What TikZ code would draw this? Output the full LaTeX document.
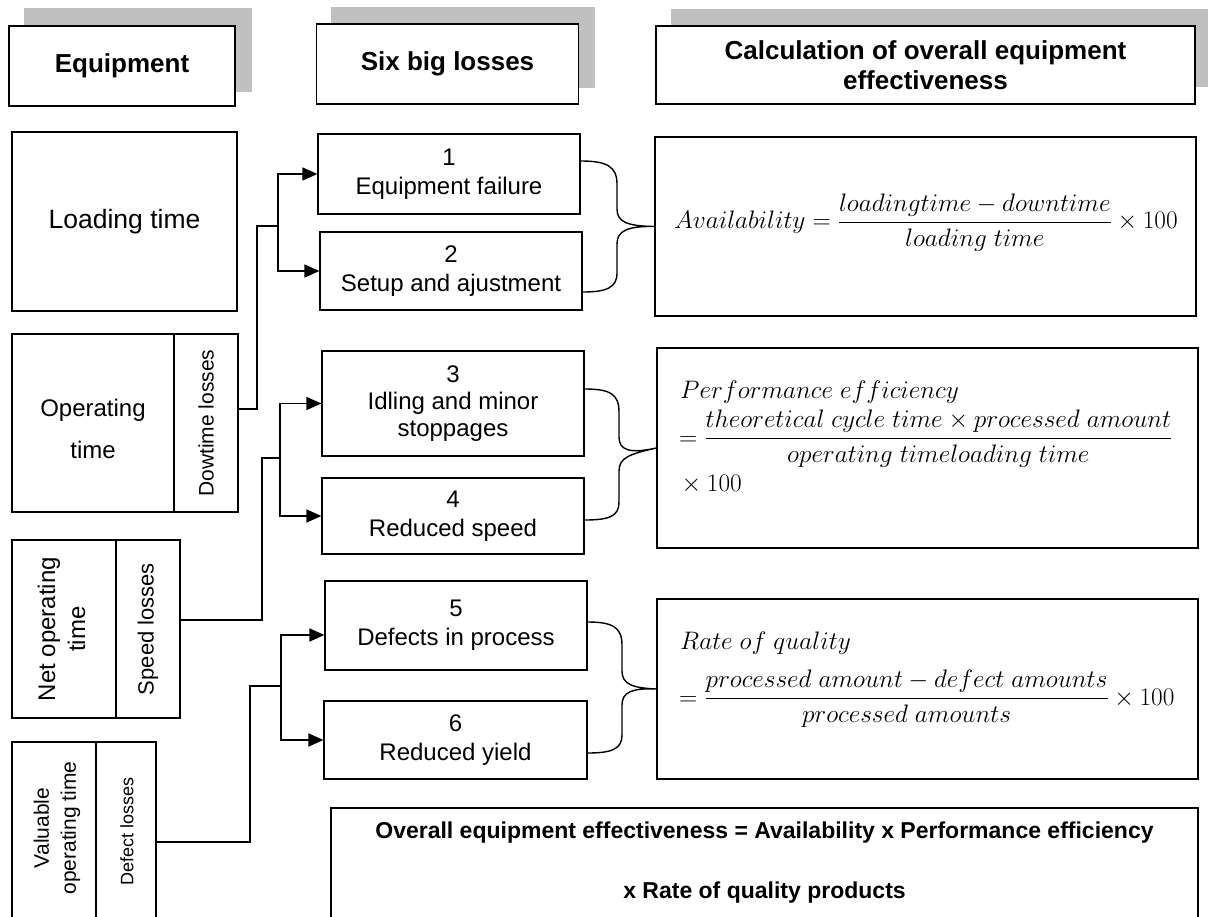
\RequirePackage{fix-cm}
\documentclass[tikz,border=0pt]{standalone}
\usepackage{amsmath}
\usepackage{fontspec}
\setmainfont{Liberation Sans}
\usetikzlibrary{arrows.meta}
\definecolor{shadowgray}{RGB}{192,192,192}

\begin{document}
\begin{tikzpicture}[x=1pt,y=-1pt,
  box/.style={draw, line width=1.2pt, inner sep=0pt, align=center,
    font=\fontsize{24}{29}\selectfont},
  headbox/.style={draw, fill=white, line width=1.2pt, inner sep=0pt, align=center,
    font=\bfseries\fontsize{26}{30}\selectfont},
  conn/.style={line width=1.6pt},
  arrow/.style={line width=1.6pt, -{Triangle[length=15pt,width=13pt]}},
  brc/.style={line width=1.4pt},
  ftext/.style={inner sep=0pt, font=\fontsize{25.3}{30}\selectfont},
  vlabel/.style={inner sep=0pt, align=center}
]
\clip (0,0) rectangle (1210,917);

% column headers with their shadows
\fill[shadowgray] (24,8) rectangle (252,92);
\fill[shadowgray] (331,7) rectangle (595,88);
\fill[shadowgray] (671,9) rectangle (1208,87);
\node[headbox, line width=2.2pt, minimum width=226, minimum height=80] (h1) at (122,66) {Equipment};
\node[headbox, minimum width=262, minimum height=80] (h2) at (447.5,64) {Six big losses};
\node[headbox, minimum width=539, minimum height=78] (h3) at (925.5,65)
  {Calculation of overall equipment\\effectiveness};

% equipment time column
\node[box, minimum width=225, minimum height=179, font=\fontsize{26.5}{30}\selectfont] (lt) at (124.5,221.5) {Loading time};
\node[box, minimum width=162, minimum height=178] (ot) at (93,423) {};
\node[vlabel, font=\fontsize{24}{42}\selectfont] (otl) at (93,429) {Operating\\time};
\node[box, minimum width=64, minimum height=178] (dl) at (206,423)
  {\fontsize{21}{25}\selectfont\rotatebox{90}{Dowtime losses}};
\node[box, minimum width=104, minimum height=178] (not) at (64,629)
  {\fontsize{24}{30}\selectfont\rotatebox{90}{\begin{tabular}{@{}c@{}}Net operating\\time\end{tabular}}};
\node[box, minimum width=64, minimum height=178] (sl) at (148,629)
  {\fontsize{22}{26}\selectfont\rotatebox{90}{Speed losses}};
\node[box, minimum width=84, minimum height=190] (vot) at (54,837) {};
\node[box, minimum width=60, minimum height=190] (dfl) at (126,837) {};
\node[vlabel] (votl) at (57,828)
  {\fontsize{21}{27}\selectfont\rotatebox{90}{\begin{tabular}{@{}c@{}}Valuable\\operating time\end{tabular}}};
\node[vlabel] (dfll) at (127,831)
  {\fontsize{18}{22}\selectfont\rotatebox{90}{Defect losses}};

% six big losses
\node[box, minimum width=262, minimum height=80] (b1) at (449,174) {1\\Equipment failure};
\node[box, minimum width=262, minimum height=78] (b2) at (451,271) {2\\Setup and ajustment};
\node[box, minimum width=262, minimum height=105, font=\fontsize{24}{27}\selectfont] (b3) at (453,403.5) {3\\Idling and minor\\stoppages};
\node[box, minimum width=262, minimum height=76] (b4) at (453,516) {4\\Reduced speed};
\node[box, minimum width=262, minimum height=89] (b5) at (456,625.5) {5\\Defects in process};
\node[box, minimum width=263, minimum height=78] (b6) at (455.5,740) {6\\Reduced yield};

% calculation boxes
\node[box, minimum width=541, minimum height=179] (fa) at (925.5,226.5) {};
\node[box, minimum width=541, minimum height=200] (fp) at (927.5,448) {};
\node[box, minimum width=541, minimum height=180] (fq) at (927.5,689) {};
\node[ftext, anchor=base] (fat) at (926,229)
  {$\displaystyle Availability=\frac{loadingtime-downtime}{loading\ time}\times 100$};
\node[ftext, anchor=base west] (fp1) at (680,398) {$Performance\ efficiency$};
\node[ftext, anchor=base west] (fp2) at (679,445)
  {$\displaystyle =\frac{theoretical\ cycle\ time\times processed\ amount}{operating\ timeloading\ time}$};
\node[ftext, anchor=base west] (fp3) at (680,491) {${}\mathbin{\!\times} 100$};
\node[ftext, anchor=base west] (fq1) at (680,649) {$Rate\ of\ quality$};
\node[ftext, anchor=base west] (fq2) at (679,705)
  {$\displaystyle =\frac{processed\ amount-defect\ amounts}{processed\ amounts}\times 100$};

% overall result
\node[draw, line width=1.2pt, minimum width=867, minimum height=140, inner sep=0pt] (oee) at (764.5,878) {};
\node[inner sep=0pt, align=center, font=\bfseries\fontsize{23}{60}\selectfont] (oeet) at (764.5,863)
  {Overall equipment effectiveness = Availability x Performance efficiency\\x Rate of quality products};

% connectors from the loss columns to the six losses
\coordinate (ka) at (278,226);
\coordinate (kb) at (280,458);
\coordinate (kc) at (281,686);
\draw[conn] ([yshift=14pt]dl.east) -| (257,226) -- (ka);
\draw[arrow] (ka) |- (b1.west);
\draw[arrow] (ka) |- (b2.west);
\draw[conn] ([yshift=9pt]sl.east) -| (262,458) -- (kb);
\draw[arrow] (kb) |- (b3.west);
\draw[arrow] (kb) |- (b4.west);
\draw[conn] ([yshift=-5pt]dfl.east) -| (250,686) -- (kc);
\draw[arrow] (kc) |- ([yshift=-9.5pt]b5.west);
\draw[arrow] (kc) |- (b6.west);

% braces joining each pair of losses to its formula
\draw[brc] ([yshift=13pt]b1.east) .. controls (606,161) and (617,166) .. (617,184)
  -- (617,209) .. controls (617,222) and (627,226) .. (fa.west)
  .. controls (627,226) and (617,231) .. (617,244)
  -- (617,273) .. controls (617,288) and (606,292) .. ([yshift=-21pt]b2.east);
\draw[brc] ([yshift=14.5pt]b3.east) .. controls (610,389) and (619,394) .. (619,412)
  -- (619,437) .. controls (619,450) and (629,454) .. (fp.west)
  .. controls (629,454) and (619,458) .. (619,471)
  -- (619,502) .. controls (619,516) and (610,520) .. ([yshift=-4pt]b4.east);
\draw[brc] ([yshift=3.5pt]b5.east) .. controls (612,622) and (622,627) .. (622,645)
  -- (622,671) .. controls (622,684) and (632,688) .. (fq.west)
  .. controls (632,688) and (622,692) .. (622,705)
  -- (622,735) .. controls (622,749) and (612,753) .. ([yshift=-13pt]b6.east);
\end{tikzpicture}
\end{document}
